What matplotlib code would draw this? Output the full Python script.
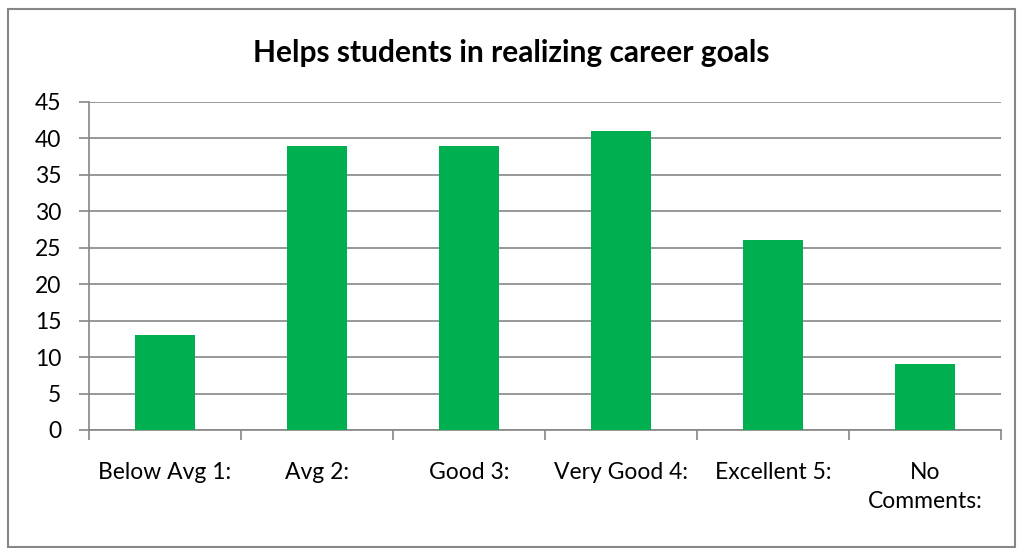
import numpy as np
import matplotlib.pyplot as plt
from matplotlib.patches import Rectangle

# Данные
categories = ['Below Avg 1:', 'Avg 2:', 'Good 3:', 'Very Good 4:', 'Excellent 5:', 'No\nComments:']
values = [13, 39, 39, 41, 26, 9]
y_ticks = [0, 5, 10, 15, 20, 25, 30, 35, 40, 45]

plt.rcParams['font.family'] = ['Lato', 'DejaVu Sans']

fig = plt.figure(figsize=(10.23, 5.48), dpi=100)
ax = fig.add_axes([89 / 1023, 1 - 430 / 548, (1001 - 89) / 1023, (430 - 102) / 548])

x = np.arange(len(categories))
ax.bar(x, values, width=0.4, color='#00B050', zorder=3)

ax.set_xlim(-0.5, len(categories) - 0.5)
ax.set_ylim(0, 45)
ax.set_yticks(y_ticks)
ax.set_yticklabels([str(t) for t in y_ticks], fontsize=16.5)
ax.yaxis.grid(True, color='#868686', linewidth=1.2, zorder=0)

ax.set_xticks(x)
ax.set_xticklabels(categories, fontsize=16.5, linespacing=1.5, va='top')
ax.set_xticks(np.arange(-0.5, len(categories), 1), minor=True)
ax.tick_params(axis='x', which='major', length=0, pad=23)
ax.tick_params(axis='x', which='minor', length=7, color='#868686', width=1.2)
ax.tick_params(axis='y', length=7, color='#868686', width=1.2, pad=13)

for s in ['top', 'right']:
    ax.spines[s].set_visible(False)
for s in ['left', 'bottom']:
    ax.spines[s].set_color('#868686')
    ax.spines[s].set_linewidth(1.2)

fig.text(0.5, 1 - 53 / 548, 'Helps students in realizing career goals',
         ha='center', va='center', fontsize=21.5, fontweight='bold')

# рамка вокруг диаграммы
fig.patches.append(Rectangle((8 / 1023, 1 / 548), 1007 / 1023, 538 / 548,
                             transform=fig.transFigure, fill=False,
                             edgecolor='#868686', linewidth=1.5))

fig.savefig('out.png', dpi=100)
